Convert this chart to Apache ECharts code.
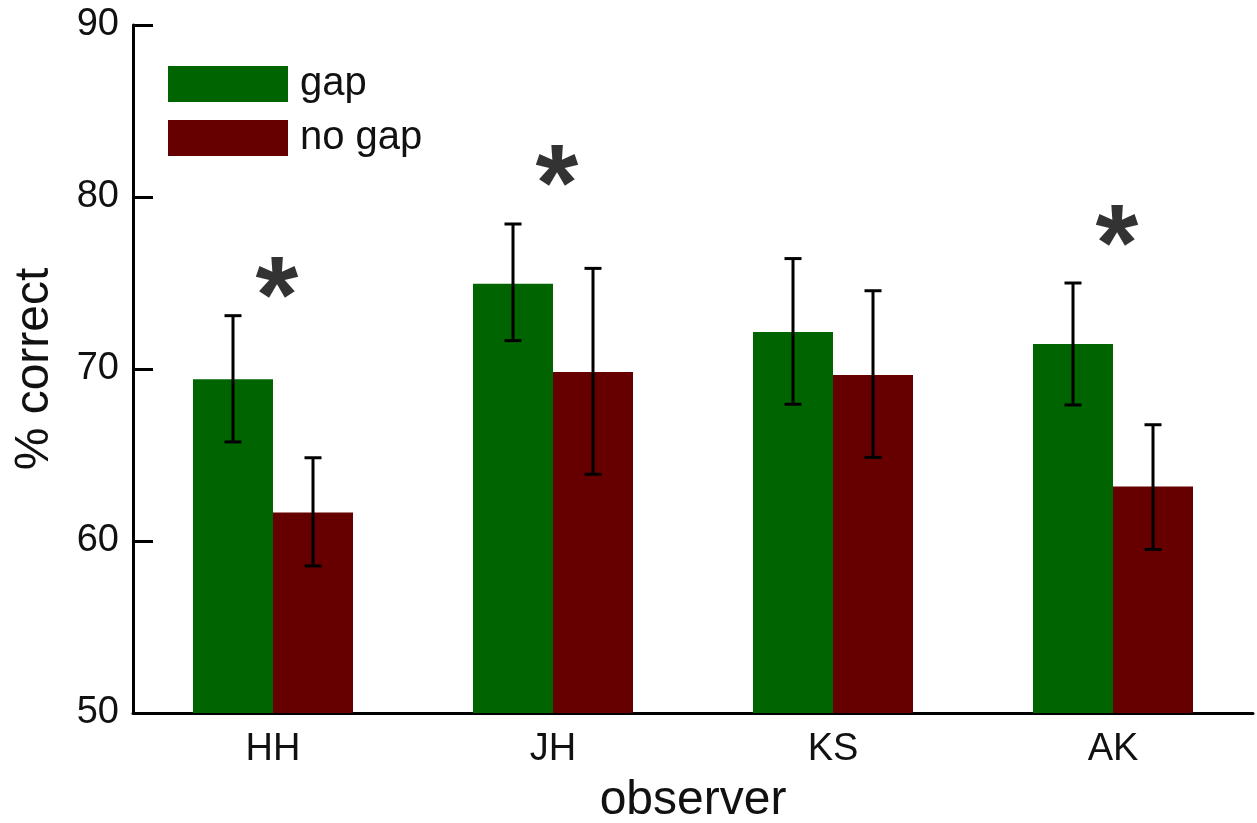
<!DOCTYPE html>
<html>
<head>
<meta charset="utf-8">
<script src="https://cdn.jsdelivr.net/npm/echarts@6/dist/echarts.min.js"></script>
<style>
html,body{margin:0;padding:0;background:#fff;}
#chart{width:1257px;height:823px;}
</style>
</head>
<body>
<div id="chart"></div>
<script>
var categories = ['HH', 'JH', 'KS', 'AK'];
var gapValues = [69.4, 74.96, 72.15, 71.46];
var gapErrLow = [65.76, 71.65, 67.95, 67.91];
var gapErrHigh = [73.10, 78.43, 76.42, 75.00];
var noGapValues = [61.65, 69.83, 69.65, 63.17];
var noGapErrLow = [58.55, 63.88, 64.86, 59.51];
var noGapErrHigh = [64.84, 75.85, 74.55, 66.76];
var sigMarks = [[0, 75.08], [1, 81.57], [3, 78.08]];
var yTicks = [50, 60, 70, 80, 90];

var FONT = 'Liberation Sans, Arial, sans-serif';
var BAR_W = 80;

function errData(low, high) {
  return categories.map(function (c, i) { return [i, low[i], high[i]]; });
}
function errRender(offset) {
  return function (params, api) {
    var x = api.value(0);
    var lo = api.coord([x, api.value(1)]);
    var hi = api.coord([x, api.value(2)]);
    var cx = lo[0] + offset;
    var cap = 8.5;
    var st = { stroke: '#000', lineWidth: 3 };
    return {
      type: 'group',
      children: [
        { type: 'line', shape: { x1: cx, y1: hi[1], x2: cx, y2: lo[1] }, style: st },
        { type: 'line', shape: { x1: cx - cap, y1: hi[1], x2: cx + cap, y2: hi[1] }, style: st },
        { type: 'line', shape: { x1: cx - cap, y1: lo[1], x2: cx + cap, y2: lo[1] }, style: st }
      ]
    };
  };
}

var chart = echarts.init(document.getElementById('chart'));
chart.setOption({
  animation: false,
  backgroundColor: '#fff',
  textStyle: { fontFamily: FONT },
  grid: { left: 133, right: 4, top: 25, bottom: 110, containLabel: false, outerBoundsMode: 'none' },
  legend: {
    data: ['gap', 'no gap'],
    orient: 'vertical',
    left: 168, top: 64, padding: 0,
    icon: 'rect',
    itemWidth: 120, itemHeight: 36, itemGap: 14,
    textStyle: { fontSize: 40, color: '#111', fontFamily: FONT, padding: [0, 0, 0, 7] }
  },
  xAxis: {
    type: 'category',
    data: categories,
    name: 'observer',
    nameLocation: 'middle',
    nameGap: 64,
    nameTextStyle: { fontSize: 48, color: '#111', fontFamily: FONT },
    axisLine: { lineStyle: { color: '#000', width: 3 } },
    axisTick: { show: false },
    axisLabel: { fontSize: 38, color: '#111', margin: 18, fontFamily: FONT }
  },
  yAxis: {
    type: 'value',
    min: 50, max: 90, interval: 10,
    name: '% correct',
    nameLocation: 'middle',
    nameGap: 74,
    nameTextStyle: { fontSize: 48, color: '#111', fontFamily: FONT },
    axisLine: { show: true, lineStyle: { color: '#000', width: 3 } },
    axisTick: { show: true, inside: true, length: 20, lineStyle: { color: '#000', width: 3 } },
    axisLabel: { fontSize: 38, color: '#111', margin: 14, fontFamily: FONT,
      formatter: function (v) { return yTicks.indexOf(v) >= 0 ? String(v) : ''; } },
    splitLine: { show: false }
  },
  series: [
    { name: 'gap', type: 'bar', data: gapValues, barWidth: BAR_W, barGap: '0%',
      itemStyle: { color: '#006400' } },
    { name: 'no gap', type: 'bar', data: noGapValues, barWidth: BAR_W, barGap: '0%',
      itemStyle: { color: '#660000' } },
    { name: 'gapErr', type: 'custom', data: errData(gapErrLow, gapErrHigh),
      renderItem: errRender(-BAR_W / 2), encode: { x: 0, y: [1, 2] }, z: 5 },
    { name: 'noGapErr', type: 'custom', data: errData(noGapErrLow, noGapErrHigh),
      renderItem: errRender(BAR_W / 2), encode: { x: 0, y: [1, 2] }, z: 5 },
    { name: 'sig', type: 'scatter', data: sigMarks, symbolSize: 2,
      itemStyle: { color: 'rgba(0,0,0,0)' }, z: 6,
      label: { show: true, position: 'inside', formatter: '*', fontSize: 110,
        fontWeight: 'bold', color: '#000', fontFamily: FONT, offset: [4, 20] } }
  ]
});
</script>
</body>
</html>
